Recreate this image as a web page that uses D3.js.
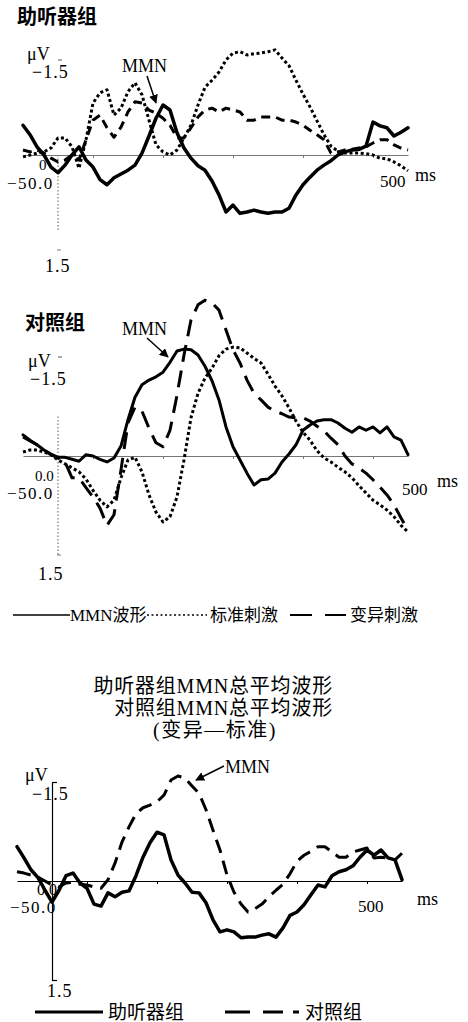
<!DOCTYPE html>
<html><head><meta charset="utf-8">
<script src="https://cdn.jsdelivr.net/npm/d3@7"></script>
<style>
html,body{margin:0;padding:0;background:#fff;}
svg text{font-family:"Liberation Serif","Noto Sans CJK SC",serif;fill:#000;}
</style></head>
<body><svg id="chart" width="468" height="1022"></svg>
<script>
// ---- data (time in ms, amplitude in µV; negative plotted upward) ----
const timesMs = [0,10,20,30,40,50,60,70,80,90,100,110,120,130,140,150,160,170,180,190,200,210,220,230,240,250,260,270,280,290,300,310,320,330,340,350,360,370,380,390,400,410,420,430,440,450,460,470,480,490,500,510,520,530,540,550];
const xTickValues = [100,200,300,400,500];
const yLimits = [-1.5, 1.5];
const yLabelTop = "−1.5", yLabelBottom = "1.5";
const xEndLabel = "500", xUnit = "ms", yUnit = "μV";

// 助听器组
const hearingMMN = [-0.47,-0.32,-0.13,0,0.19,0.28,0.16,0,-0.13,0.08,
 0.19,0.39,0.47,0.36,0.30,0.24,0.16,-0.03,-0.30,-0.58,
 -0.79,-0.71,-0.35,-0.11,0.05,0.17,0.24,0.41,0.63,0.90,
 0.79,0.92,0.90,0.87,0.90,0.92,0.90,0.90,0.84,0.63,
 0.47,0.35,0.24,0.16,0.09,0,-0.05,-0.08,-0.09,-0.14,
 -0.52,-0.46,-0.43,-0.30,-0.36,-0.43];
const hearingStandard = [0.03,0,-0.03,-0.05,-0.11,-0.27,-0.27,-0.13,0.21,-0.24,
 -0.82,-0.98,-1.03,-0.63,-0.74,-1.00,-1.14,-0.95,-0.55,-0.16,
 -0.05,0,-0.08,-0.27,-0.47,-0.79,-1.07,-1.18,-1.31,-1.50,
 -1.61,-1.63,-1.58,-1.60,-1.61,-1.63,-1.66,-1.53,-1.41,-1.18,
 -0.96,-0.76,-0.54,-0.32,-0.14,-0.06,-0.03,-0.03,-0.03,-0.02,
 0,0.05,0.06,0.11,0.17,0.25];
const hearingDeviant = [-0.08,-0.05,-0.08,-0.03,0.05,0.11,0.08,0,0.08,-0.24,
 -0.55,-0.63,-0.43,-0.28,-0.44,-0.68,-0.84,-0.82,-0.71,-0.66,
 -0.58,-0.47,-0.27,-0.27,-0.43,-0.60,-0.71,-0.74,-0.68,-0.74,
 -0.71,-0.68,-0.55,-0.55,-0.60,-0.60,-0.60,-0.55,-0.55,-0.52,
 -0.47,-0.39,-0.32,-0.24,-0.03,-0.05,-0.08,-0.09,-0.11,-0.13,
 -0.19,-0.24,-0.24,-0.16,-0.11,-0.08];

// 对照组
const controlMMN = [-0.32,-0.24,-0.17,-0.09,-0.03,0.02,0.02,0.05,0.08,-0.02,
 0,0.05,0.09,0.03,-0.15,-0.55,-0.89,-1.08,-1.15,-1.20,
 -1.27,-1.42,-1.59,-1.62,-1.61,-1.53,-1.36,-1.14,-0.85,-0.44,
 -0.14,0.06,0.26,0.44,0.36,0.35,0.26,0.09,-0.03,-0.17,
 -0.39,-0.47,-0.53,-0.55,-0.55,-0.50,-0.42,-0.36,-0.44,-0.39,
 -0.44,-0.35,-0.44,-0.29,-0.24,-0.02];
const controlStandard = [-0.06,-0.09,-0.09,-0.06,-0.02,0.06,0.12,0.18,0.24,0.35,
 0.52,0.67,0.77,0.67,0.33,0.06,0.02,0.24,0.59,0.85,
 1.00,0.92,0.62,0.06,-0.58,-0.95,-1.18,-1.33,-1.52,-1.62,
 -1.65,-1.64,-1.56,-1.48,-1.41,-1.24,-1.06,-0.91,-0.73,-0.53,
 -0.36,-0.24,-0.08,0.03,0.09,0.17,0.24,0.33,0.45,0.56,
 0.67,0.74,0.82,0.92,1.05,1.15];
const controlDeviant = [-0.29,-0.23,-0.17,-0.09,-0.02,0.03,0.09,0.33,0.33,0.48,
 0.62,0.79,1.05,0.89,0.21,-0.50,-0.74,-0.68,-0.42,-0.20,
 -0.14,-0.39,-0.92,-1.53,-2.06,-2.29,-2.36,-2.32,-2.21,-1.91,
 -1.61,-1.41,-1.15,-0.95,-0.85,-0.74,-0.68,-0.64,-0.59,-0.58,
 -0.58,-0.53,-0.45,-0.38,-0.27,-0.17,0,0.12,0.18,0.26,
 0.36,0.47,0.59,0.74,0.94,1.12];

// 总平均 MMN (变异—标准)
const grandHearing = [-0.52,-0.35,-0.17,-0.05,0.14,0.32,0.14,-0.08,-0.12,0.03,
 0.11,0.35,0.38,0.18,0.24,0.17,0.15,-0.08,-0.36,-0.58,
 -0.74,-0.70,-0.32,-0.09,0.03,0.17,0.18,0.33,0.59,0.77,
 0.74,0.77,0.86,0.85,0.85,0.82,0.80,0.85,0.71,0.52,
 0.47,0.36,0.21,0.06,0.09,-0.08,-0.14,-0.17,-0.23,-0.36,
 -0.47,-0.39,-0.47,-0.35,-0.32,-0.02];
const grandControl = [-0.14,-0.12,-0.09,-0.06,0,0.06,0.09,0.03,0.02,0.05,
 0.06,0.09,0.11,-0.02,-0.27,-0.59,-0.82,-1.02,-1.11,-1.15,
 -1.20,-1.30,-1.53,-1.59,-1.56,-1.44,-1.33,-1.08,-0.77,-0.47,
 -0.09,0.17,0.35,0.47,0.42,0.35,0.24,0.14,0.05,-0.11,
 -0.30,-0.39,-0.45,-0.52,-0.52,-0.44,-0.36,-0.36,-0.44,-0.47,
 -0.50,-0.35,-0.36,-0.35,-0.32,-0.42];

const yAxisAtMs = 50;
const panel1Title = "助听器组", panel2Title = "对照组";
const legend1Labels = ["MMN波形", "标准刺激", "变异刺激"];
const panel3Titles = ["助听器组MMN总平均波形", "对照组MMN总平均波形", "(变异—标准)"];
const legend3Labels = ["助听器组", "对照组"];
const mmnLabel = "MMN";

// ---- drawing ----
const svg = d3.select("#chart");
svg.append("defs").append("marker")
  .attr("id","arrow").attr("viewBox","0 0 10 10").attr("refX",9).attr("refY",5)
  .attr("markerWidth",9).attr("markerHeight",9).attr("markerUnits","userSpaceOnUse")
  .attr("orient","auto")
  .append("path").attr("d","M0,0 L10,5 L0,10 z").attr("fill","#000");

function txt(x, y, s, size, opts = {}) {
  const t = svg.append("text").attr("x", x).attr("y", y).text(s)
    .style("font-size", size + "px");
  if (opts.anchor) t.attr("text-anchor", opts.anchor);
  if (opts.ls) t.style("letter-spacing", opts.ls + "px");
  if (opts.bold) t.style("font-weight", "bold");
  return t;
}

function wave(x, y, vals, style) {
  const line = d3.line().x((d, i) => x(timesMs[i])).y(d => y(d)).curve(d3.curveLinear);
  svg.append("path").datum(vals).attr("d", line)
    .attr("fill", "none").attr("stroke", "#000")
    .attr("stroke-width", style.w).attr("stroke-linejoin", "round")
    .attr("stroke-linecap", style.cap || "butt")
    .attr("stroke-dasharray", style.dash || null);
}

function panel(cfg) {
  const x = d3.scaleLinear().domain([0, 550]).range(cfg.xr);
  const y = d3.scaleLinear().domain(yLimits).range(cfg.yr);
  const y0 = y(0);
  const gx = svg.append("g").attr("transform", `translate(0,${y0})`)
    .call(d3.axisBottom(x).tickValues(xTickValues).tickSize(3).tickSizeOuter(0).tickFormat(""));
  gx.selectAll("path,line").attr("stroke", cfg.axisColor).attr("stroke-width", 1);
  const ax = x(yAxisAtMs);
  if (cfg.solidY) {
    const gy = svg.append("g").attr("transform", `translate(${ax},0)`)
      .call(d3.axisRight(y).tickValues(yLimits).tickSize(5).tickSizeOuter(0).tickFormat(""));
    gy.selectAll("path,line").attr("stroke", "#000").attr("stroke-width", 1.2);
  } else {
    svg.append("line").attr("x1", ax).attr("x2", ax)
      .attr("y1", y(cfg.yDotFrom)).attr("y2", y(cfg.yDotTo))
      .attr("stroke", "#777").attr("stroke-width", 1.2).attr("stroke-dasharray", "1.5,2");
    svg.append("line").attr("x1", ax).attr("x2", ax + 4)
      .attr("y1", y(yLimits[0])).attr("y2", y(yLimits[0])).attr("stroke", "#555").attr("stroke-width", 1);
    svg.append("line").attr("x1", ax - 1).attr("x2", ax + 3)
      .attr("y1", y(yLimits[1])).attr("y2", y(yLimits[1])).attr("stroke", "#777").attr("stroke-width", 1);
  }
  cfg.series.forEach(s => wave(x, y, s.vals, s.style));
  return {x, y};
}

// Panel 1
txt(17, 24, panel1Title, 20, {bold:true});
panel({xr:[23,408], yr:[60,250], axisColor:"#777", yDotFrom:0, yDotTo:1.2,
  series:[
    {vals:hearingStandard, style:{w:3, dash:"3,2.6"}},
    {vals:hearingDeviant, style:{w:3, dash:"9,6"}},
    {vals:hearingMMN, style:{w:3.5, cap:"round"}}
  ]});
txt(27, 60, yUnit, 18);
txt(32, 78, yLabelTop, 18, {ls:1});
txt(39, 170, "0", 15);
txt(7, 189, "−50.0", 17, {ls:1.5});
txt(45, 272, yLabelBottom, 18, {ls:1});
txt(380, 187, xEndLabel, 17);
txt(415, 181, xUnit, 18);
txt(122, 72, mmnLabel, 18);
svg.append("line").attr("x1",147).attr("y1",76).attr("x2",156).attr("y2",103)
  .attr("stroke","#000").attr("stroke-width",1.5).attr("marker-end","url(#arrow)");

// Panel 2
txt(25, 330, panel2Title, 20, {bold:true});
panel({xr:[23,408], yr:[357,555], axisColor:"#777", yDotFrom:-0.6, yDotTo:1.5,
  series:[
    {vals:controlStandard, style:{w:3, dash:"3,2.6"}},
    {vals:controlDeviant, style:{w:3, dash:"17,9"}},
    {vals:controlMMN, style:{w:3, cap:"round"}}
  ]});
txt(28, 367, yUnit, 18);
txt(30, 385, yLabelTop, 18, {ls:1});
txt(35, 481, "0.0", 15);
txt(7, 499, "−50.0", 17, {ls:1.5});
txt(38, 580, yLabelBottom, 18, {ls:1});
txt(402, 495, xEndLabel, 17);
txt(437, 487, xUnit, 18);
txt(122, 335, mmnLabel, 18);
svg.append("line").attr("x1",147).attr("y1",338).attr("x2",168).attr("y2",357)
  .attr("stroke","#000").attr("stroke-width",1.5).attr("marker-end","url(#arrow)");

// Legend 1
const lg1y = 615;
svg.append("line").attr("x1",13).attr("x2",70).attr("y1",lg1y).attr("y2",lg1y).attr("stroke","#000").attr("stroke-width",1.4);
txt(70, 621, legend1Labels[0], 17);
svg.append("line").attr("x1",147).attr("x2",207).attr("y1",lg1y).attr("y2",lg1y).attr("stroke","#000").attr("stroke-width",1.4).attr("stroke-dasharray","2,2.5");
txt(210, 621, legend1Labels[1], 17);
svg.append("line").attr("x1",290).attr("x2",346).attr("y1",lg1y).attr("y2",lg1y).attr("stroke","#000").attr("stroke-width",2).attr("stroke-dasharray","22,13");
txt(350, 621, legend1Labels[2], 17);

// Panel 3 titles
txt(333, 693, panel3Titles[0], 20, {anchor:"end", ls:0.8});
txt(333, 715, panel3Titles[1], 20, {anchor:"end", ls:0.8});
txt(215, 737, panel3Titles[2], 20, {anchor:"middle", ls:1.5});

// Panel 3
panel({xr:[17,402], yr:[782,980], axisColor:"#000", solidY:true,
  series:[
    {vals:grandControl, style:{w:3, dash:"14,8"}},
    {vals:grandHearing, style:{w:3.5, cap:"round"}}
  ]});
txt(25, 781, yUnit, 18);
txt(32, 800, yLabelTop, 18, {ls:1});
txt(37, 895, "0.0", 16);
txt(10, 913, "−50.0", 17, {ls:1.5});
txt(47, 997, yLabelBottom, 18, {ls:1});
txt(358, 912, xEndLabel, 17);
txt(417, 905, xUnit, 18);
txt(225, 773, mmnLabel, 18);
svg.append("line").attr("x1",224).attr("y1",766).attr("x2",196).attr("y2",780)
  .attr("stroke","#000").attr("stroke-width",1.5).attr("marker-end","url(#arrow)");

// Legend 3
const lg3y = 1012;
svg.append("line").attr("x1",35).attr("x2",103).attr("y1",lg3y).attr("y2",lg3y).attr("stroke","#000").attr("stroke-width",3);
txt(108, 1019, legend3Labels[0], 19);
svg.append("line").attr("x1",225).attr("x2",299).attr("y1",lg3y).attr("y2",lg3y).attr("stroke","#000").attr("stroke-width",3).attr("stroke-dasharray","25,13,20,10");
txt(305, 1019, legend3Labels[1], 19);
</script></body></html>
